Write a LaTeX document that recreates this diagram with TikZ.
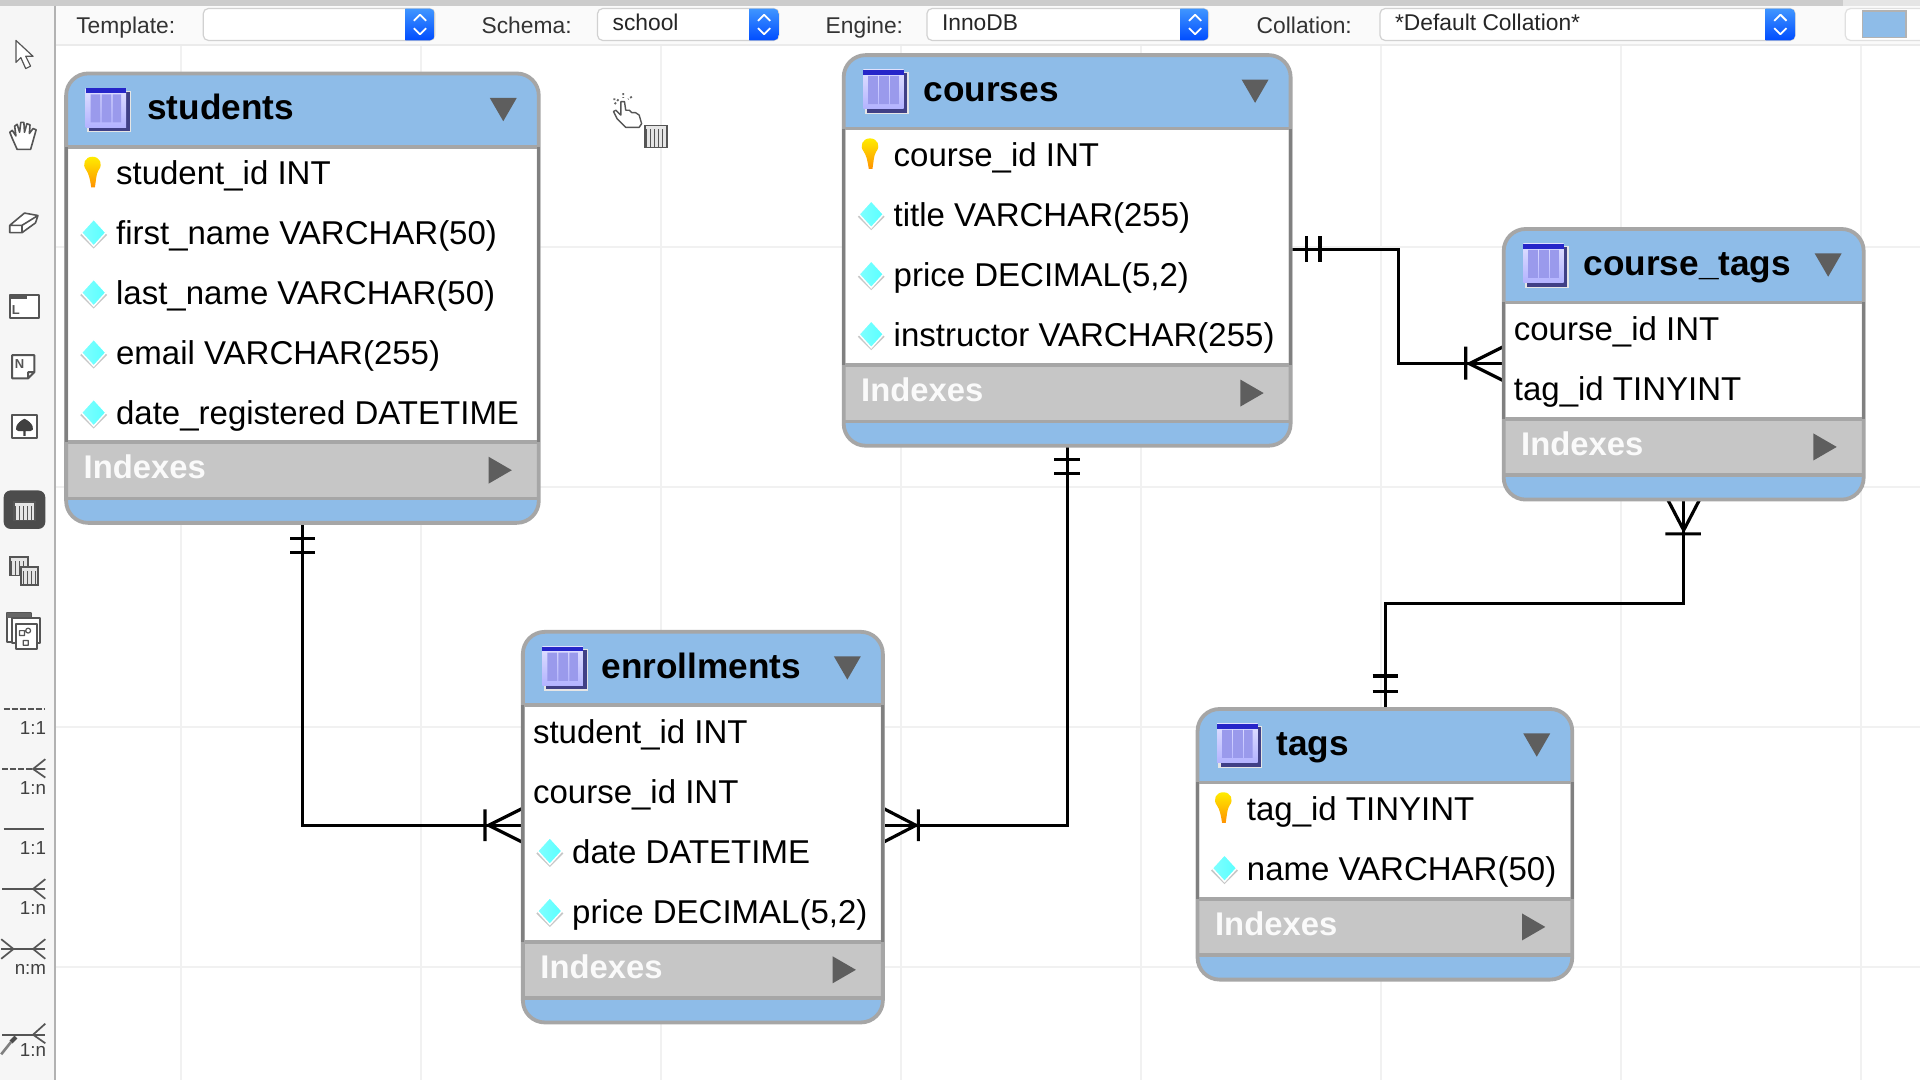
\documentclass[tikz,border=0pt]{standalone}
\usepackage{fontspec}
\setmainfont{Liberation Sans}
\usetikzlibrary{fit,calc}
\definecolor{hdrblue}{HTML}{8EBCE8}
\definecolor{tblborder}{HTML}{A6A6A6}
\definecolor{idxgrey}{HTML}{C6C6C6}
\definecolor{tri}{HTML}{5E5E5E}
\definecolor{gridc}{HTML}{F1F1F1}
\definecolor{sidebar}{HTML}{F6F6F6}
\definecolor{icon}{HTML}{555555}
\tikzset{
  x=0.6122pt,y=-0.6122pt,
  conn/.style={line width=1.6pt,black,line cap=butt,line join=miter},
  gridline/.style={line width=1.1pt,gridc},
  tbox/.style={inner sep=0pt,outer sep=0pt,draw=tblborder,line width=1.9pt,rounded corners=11pt},
  coltext/.style={inner sep=0pt,anchor=base west,font=\fontsize{16.5}{18}\selectfont,text=black},
  titletext/.style={inner sep=0pt,anchor=base west,font=\fontsize{17.6}{20}\selectfont\bfseries,text=black},
  idxtext/.style={inner sep=0pt,anchor=base west,font=\fontsize{16.4}{18}\selectfont\bfseries,text=white!92!idxgrey},
  bartext/.style={inner sep=0pt,anchor=base west,font=\fontsize{11.4}{13}\selectfont,text=black!80},
  sidetext/.style={inner sep=0pt,anchor=base east,font=\fontsize{9.4}{11}\selectfont,text=black!75},
  iconline/.style={draw=icon,line width=0.6pt,line join=round},
  sideline/.style={draw=icon,line width=0.85pt},
}
% table frame: id, x0, x1, top, y of rows bottom, title, title x
\newcommand{\tblframe}[7]{%
  \begin{scope}
    \clip[rounded corners=11pt] (#2,#4) rectangle (#3,#5+66);
    \fill[hdrblue] (#2,#4) rectangle (#3,#5+66);
    \fill[white] (#2,#4+60) rectangle (#3,#5);
    \fill[idxgrey] (#2,#5) rectangle (#3,#5+46);
    \draw[tblborder,line width=1.9pt] (#2,#4+60) -- (#3,#4+60);
    \draw[tblborder,line width=1.9pt] (#2,#5) -- (#3,#5);
    \draw[tblborder,line width=1.7pt] (#2,#5+46) -- (#3,#5+46);
  \end{scope}
  \coordinate (#1-a) at (#2,#4);
  \coordinate (#1-b) at (#3,#5+66);
  \node[tbox,fit=(#1-a)(#1-b)] (#1) {};
  \draw[black!50,line width=1.5pt] (#2,#4+60) -- (#2,#5) (#3,#4+60) -- (#3,#5);
  \tblicon{#2+16}{#4+12}
  \node[titletext] (#1-title) at (#7,#4+38) {#6};
  \fill[tri] (#3-40,#4+20) -- (#3-18,#4+20) -- (#3-29,#4+39) -- cycle;
  \node[idxtext] (#1-idx) at (#2+14,#5+30) {Indexes};
  \fill[tri] (#3-41,#5+12) -- (#3-22,#5+23) -- (#3-41,#5+34) -- cycle;
}
\newcommand{\tblicon}[2]{%
  \begin{scope}[shift={(#1,#2)}]
    \fill[black!10] (1,2) rectangle (37,36);
    \fill[black!45!blue!50!gray] (3,3) rectangle (36,35);
    \shade[top color=blue!12!white,bottom color=blue!30!white] (0,0) rectangle (33,32);
    \fill[blue!38!white!85!gray] (4,5) rectangle (12,28) (13,5) rectangle (21,28) (22,5) rectangle (29,28);
    \fill[blue!75!black!85!white] (0,0) rectangle (33,4);
  \end{scope}
}
\newcommand{\rowdiamond}[4]{% name, x, y, text
  \begin{scope}[shift={(#2,#3)}]
    \fill[black!22] (0,-9) -- (11,2) -- (0,13) -- (-11,2) -- cycle;
    \shade[left color=cyan!50!white,right color=cyan!65!white,draw=white,line width=0.7pt] (0,-11) -- (10,0) -- (0,11) -- (-10,0) -- cycle;
  \end{scope}
  \node[coltext] (#1) at (#2+18,#3+10) {#4};
}
\newcommand{\rowkey}[4]{%
  \begin{scope}[shift={(#2,#3)}]
    \shade[top color=yellow!85!orange,bottom color=orange!85!yellow]
      (-1,12) .. controls (-2,5) and (-3,1) .. (-5,-2)
      .. controls (-9,-7) and (-6,-13) .. (0,-13)
      .. controls (6,-13) and (9,-7) .. (5,-2)
      .. controls (3,1) and (3,6) .. (2,12) -- cycle;
  \end{scope}
  \node[coltext] (#1) at (#2+19,#3+10) {#4};
}
\newcommand{\rowplain}[4]{\node[coltext] (#1) at (#2,#3+10) {#4};}
\newcommand{\dropbox}[5]{% name,x0,x1,btnx,text
  \coordinate (#1-a) at (#2,7);
  \coordinate (#1-b) at (#3,33);
  \node[inner sep=0pt,outer sep=0pt,fill=white,draw=black!18,line width=0.6pt,rounded corners=2.5pt,fit=(#1-a)(#1-b)] (#1) {};
  \begin{scope}
    \clip[rounded corners=2.5pt] (#2,7) rectangle (#3,33);
    \shade[top color=blue!55!cyan!75!white,bottom color=blue!70!cyan] (#4,7) rectangle (#3,33);
  \end{scope}
  \draw[white,line width=0.9pt,line join=round] (#4+7,17) -- (#4+12,12) -- (#4+17,17) (#4+7,23) -- (#4+12,28) -- (#4+17,23);
  \node[bartext,text=black!85] (#1-text) at (#2+12,25) {#5};
}
\newcommand{\minigrid}[4]{% x,y,w,h
  \fill[white!80!gray] (#1,#2) rectangle (#1+#3,#2+#4);
  \draw[icon,line width=0.9pt] (#1,#2) rectangle (#1+#3,#2+#4);
  \draw[icon,line width=0.35pt,step=3.2] (#1,#2+3) grid (#1+#3,#2+#4);
}
\begin{document}
\begin{tikzpicture}
\useasboundingbox (0,0) rectangle (1568,882);
\fill[white] (0,0) rectangle (1568,882);
% grid
\foreach \gx in {148,344,540,736,932,1128,1324,1520} \draw[gridline] (\gx,37) -- (\gx,882);
\foreach \gy in {202,398,594,790} \draw[gridline] (45,\gy) -- (1568,\gy);
% toolbar
\fill[white!98!black] (0,4) rectangle (1568,37);
\draw[line width=1.1pt,black!8] (45,37) -- (1568,37);
\fill[black!20] (0,0) rectangle (1568,4.5);
\fill[black!10] (1505,0) rectangle (1568,4.5);
\node[bartext] (lbltemplate) at (62,27) {Template:};
\node[bartext] (lblschema) at (393,27) {Schema:};
\node[bartext] (lblengine) at (674,27) {Engine:};
\node[bartext] (lblcoll) at (1026,27) {Collation:};
\dropbox{ddtemplate}{166}{355}{331}{}
\dropbox{ddschema}{488}{636}{612}{school}
\dropbox{ddengine}{757}{987}{964}{InnoDB}
\dropbox{ddcoll}{1127}{1466}{1442}{*Default Collation*}
\fill[white,draw=black!12,line width=0.6pt,rounded corners=2.5pt] (1507,7) rectangle (1575,33);
\fill[hdrblue,draw=black!30,line width=0.6pt] (1521,9) rectangle (1556.5,30.5);
% sidebar
\fill[sidebar] (0,4.5) rectangle (45,882);
\draw[line width=1pt,black!30] (45,4.5) -- (45,882);
\draw[iconline,fill=white] (13,33) -- (13,51) -- (17,47) -- (21,56) -- (25,54) -- (21,46) -- (27,46) -- cycle;
\draw[iconline,fill=white,line width=0.8pt] (14,122) -- (10,113) -- (8,108) -- (10,106.5) -- (13,111) -- (12,103) -- (14,101.5) -- (16,108) -- (17,100) -- (19.5,100) -- (20,108) -- (22,101) -- (24.5,102) -- (24,109) -- (27,105) -- (29.5,106) -- (27,115) -- (25,122) -- cycle;
\draw[iconline,fill=white,line width=0.8pt] (8,184) -- (20,174) -- (31,176) -- (29,182) -- (18,190) -- (8,190) -- cycle (8,184) -- (18,184) -- (18,190) (18,184) -- (31,176);
\draw[iconline,fill=white,line width=1pt] (8,241) rectangle (32,260);
\fill[icon] (8,241) rectangle (22,244);
\node[inner sep=0pt,font=\fontsize{6.5}{7}\selectfont\bfseries,text=icon] (iconL) at (13,253) {L};
\draw[iconline,fill=white,line width=1pt] (10,290) -- (28,290) -- (28,304) -- (23,309) -- (10,309) -- cycle (23,309) -- (23,304) -- (28,304);
\node[inner sep=0pt,font=\fontsize{6.5}{7}\selectfont\bfseries,text=icon] (iconN) at (16,297) {N};
\draw[iconline,fill=white,line width=1pt] (10,339) rectangle (30,358);
\fill[black!75] (20,342) .. controls (13,345) and (11,352) .. (15,352) -- (19,352) -- (19,356) -- (21,356) -- (21,352) -- (25,352) .. controls (29,352) and (27,345) .. (20,342) -- cycle;
\fill[black!70,rounded corners=3.5pt] (3,400.5) rectangle (37,432);
\minigrid{11.5}{410}{17}{15}
\minigrid{8}{455}{15}{15}
\minigrid{17}{463}{14}{15}
\draw[iconline,fill=white,line width=1pt] (6,501) rectangle (25,524);
\fill[black!60] (6,501) rectangle (25,505);
\draw[iconline,fill=white,line width=1pt] (10,505) rectangle (33,525);
\draw[iconline,fill=white,line width=1pt] (13,510) rectangle (30,530);
\draw[iconline] (16,515) rectangle (20,519) (23,515) circle (2) (19,523) rectangle (23,527);
% line tools
\draw[sideline,dashed,dash pattern=on 3pt off 1pt] (3,579) -- (36,579);
\node[sidetext] (s1) at (38,600) {1:1};
\draw[sideline,dashed,dash pattern=on 3pt off 1pt] (2,628) -- (27,628);
\draw[sideline] (37,620) -- (27,628) -- (37,635) (27,628) -- (37,628);
\node[sidetext] (s2) at (38,649) {1:n};
\draw[sideline] (3,677) -- (36,677);
\node[sidetext] (s3) at (38,698) {1:1};
\draw[sideline] (2,726) -- (37,726);
\draw[sideline] (37,718) -- (27,726) -- (37,734);
\node[sidetext] (s4) at (38,747) {1:n};
\draw[sideline] (1,775) -- (37,775);
\draw[sideline] (37,767) -- (27,775) -- (37,783) (1,767) -- (11,775) -- (1,783);
\node[sidetext] (s5) at (38,796) {n:m};
\draw[sideline] (2,845) -- (37,845);
\draw[sideline] (37,836) -- (27,845) -- (37,852);
\node[sidetext] (s6) at (38,863) {1:n};
\draw[black!70,line width=2pt] (9,851) -- (13,847);
\draw[black!50,line width=1.3pt] (9,851) -- (1,861);
% cursor with table
\draw[iconline,fill=white,line width=0.7pt] (511,104) -- (504,97) -- (501,91) -- (503,90) -- (507,94) -- (507,83) -- (510,83) -- (511,90) -- (514,90) -- (516,92) -- (519,92) -- (522,94) -- (524,101) -- (522,104) -- cycle;
\draw[black!60,line width=0.9pt,dash pattern=on 1pt off 1pt] (502,85) -- (506,80) (509,76) -- (509,80) (516,79) -- (513,81) (501,81) -- (504,81);
\minigrid{526.5}{102.5}{18.5}{18}
% connectors
\coordinate (enrL) at (427,674);
\coordinate (enrR) at (721,674);
\coordinate (couR) at (1054,204);
\coordinate (couM) at (1142,204);
\coordinate (ctL) at (1228,297);
\coordinate (ctM) at (1375,493);
\coordinate (stuS) at (247,428);
\coordinate (couS) at (872,364);
\coordinate (ctS) at (1375,408);
\coordinate (tagN) at (1131.5,579);
\draw[conn] (stuS) |- (enrL);
\draw[conn] (237,440) -- (257,440) (237,451) -- (257,451);
\draw[conn] (396,661) -- (396,687) (427,660) -- (399,674) -- (427,688);
\draw[conn] (couS) |- (enrR);
\draw[conn] (861,375) -- (882,375) (861,387) -- (882,387);
\draw[conn] (750,661) -- (750,687) (721,660) -- (748,674) -- (721,688);
\draw[conn] (couR) -- (couM) |- (ctL);
\draw[conn] (1067,193) -- (1067,214) (1078,193) -- (1078,214);
\draw[conn] (1197,283) -- (1197,310) (1228,283) -- (1200,297) -- (1228,311);
\draw[conn] (ctS) -- (ctM) -| (tagN);
\draw[conn] (1360,436) -- (1389,436) (1362,408) -- (1375,433) -- (1388,408);
\draw[conn] (1121,552) -- (1142,552) (1121,565) -- (1142,565);
% tables
\tblframe{stu}{54}{440}{60}{361}{students}{120}
\rowkey{stu-1}{75.5}{141}{student\_id INT}
\rowdiamond{stu-2}{76.5}{190}{first\_name VARCHAR(50)}
\rowdiamond{stu-3}{76.5}{239}{last\_name VARCHAR(50)}
\rowdiamond{stu-4}{76.5}{288}{email VARCHAR(255)}
\rowdiamond{stu-5}{76.5}{337}{date\_registered DATETIME}
\tblframe{cou}{689}{1054}{45}{298}{courses}{754}
\rowkey{cou-1}{710.5}{126}{course\_id INT}
\rowdiamond{cou-2}{711.5}{175}{title VARCHAR(255)}
\rowdiamond{cou-3}{711.5}{224}{price DECIMAL(5,2)}
\rowdiamond{cou-4}{711.5}{273}{instructor VARCHAR(255)}
\tblframe{ct}{1228}{1522}{187}{342}{course\_tags}{1293}
\rowplain{ct-1}{1236}{268}{course\_id INT}
\rowplain{ct-2}{1236}{317}{tag\_id TINYINT}
\tblframe{enr}{427}{721}{516}{769}{enrollments}{491}
\rowplain{enr-1}{435}{597}{student\_id INT}
\rowplain{enr-2}{435}{646}{course\_id INT}
\rowdiamond{enr-3}{449}{695}{date DATETIME}
\rowdiamond{enr-4}{449}{744}{price DECIMAL(5,2)}
\tblframe{tag}{978}{1284}{579}{734}{tags}{1042}
\rowkey{tag-1}{999}{660}{tag\_id TINYINT}
\rowdiamond{tag-2}{1000}{709}{name VARCHAR(50)}
\end{tikzpicture}
\end{document}
